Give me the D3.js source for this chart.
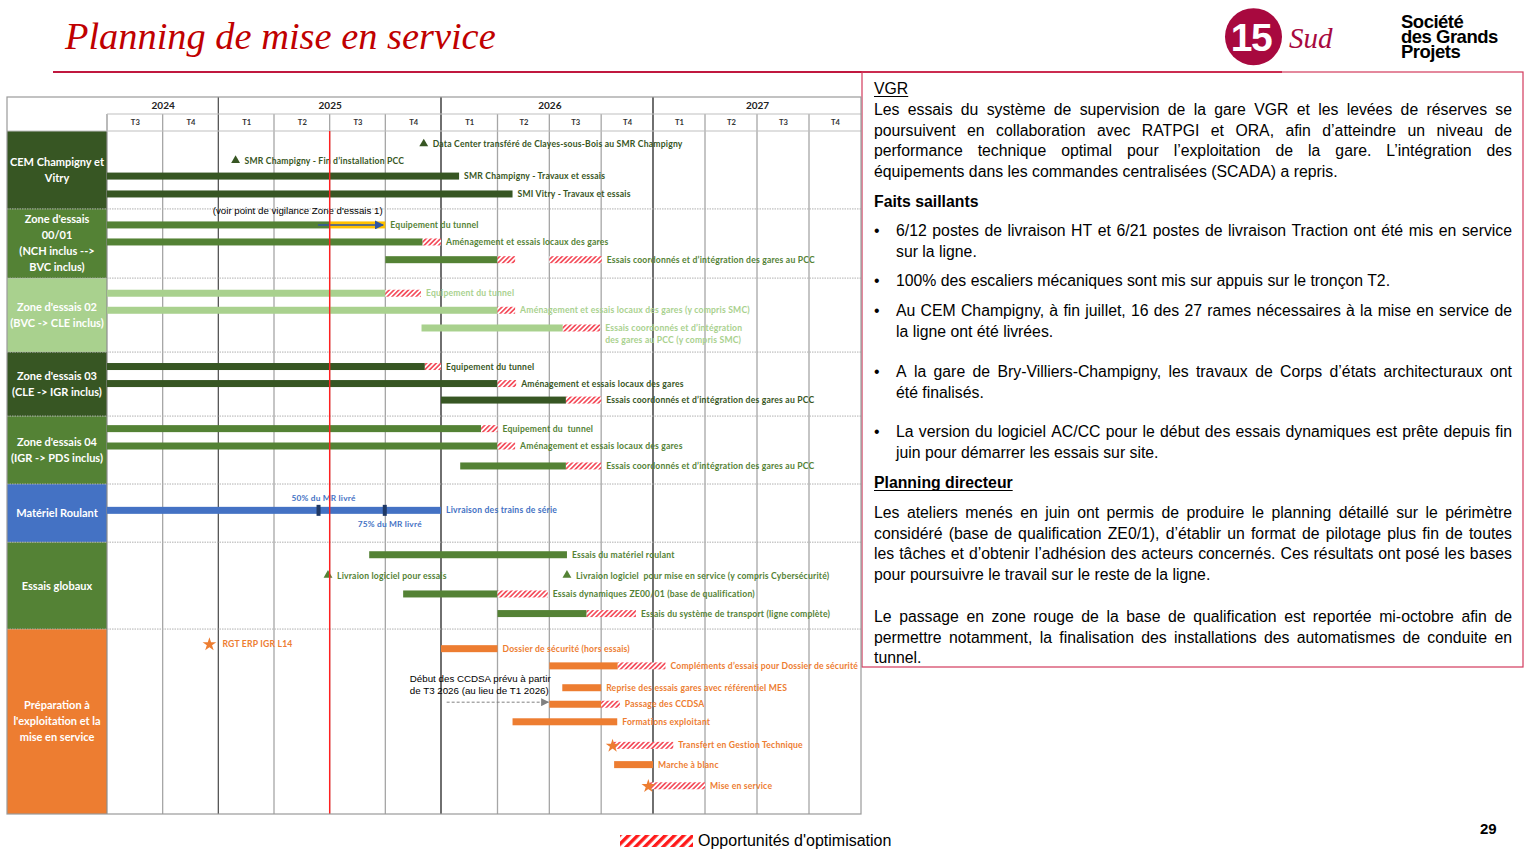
<!DOCTYPE html>
<html><head><meta charset="utf-8">
<script src="https://cdn.jsdelivr.net/npm/d3@7"></script>
<style>
html,body{margin:0;padding:0;background:#fff;}
svg{display:block;}
</style></head>
<body><svg id="c" width="1534" height="863"></svg>
<script>
// ================= DATA =================
const years = ["2024", "2025", "2026", "2027"];
const yearBounds = [0, 2, 6, 10, 14];               // quarter index from T3 2024
const quarterLabels = ["T3","T4","T1","T2","T3","T4","T1","T2","T3","T4","T1","T2","T3","T4"];
const todayQuarter = 4;                              // start of T3 2025

const categories = [
  "CEM Champigny et|Vitry",
  "Zone d'essais|00/01|(NCH inclus -->|BVC inclus)",
  "Zone d'essais 02|(BVC -> CLE inclus)",
  "Zone d'essais 03|(CLE -> IGR inclus)",
  "Zone d'essais 04|(IGR -> PDS inclus)",
  "Matériel Roulant",
  "Essais globaux",
  "Préparation à|l'exploitation et la|mise en service"
];
const categoryLaneBounds = [0, 4.53, 8.55, 12.85, 16.57, 20.52, 23.9, 28.95, 39.7];

// bars: start / end in quarters, opt = "opportunités d'optimisation" (hatched) intervals
const tasks = [
  {cat:0, lane:2.62, label:"SMR Champigny - Travaux et essais", start:0, end:6.32, opt:[]},
  {cat:0, lane:3.66, label:"SMI Vitry - Travaux et essais", start:0, end:7.29, opt:[]},
  {cat:1, lane:5.46, label:"Equipement du tunnel", start:0, end:4.0, opt:[], ext:[4.0, 5.0]},
  {cat:1, lane:6.45, label:"Aménagement et essais locaux des gares", start:0, end:5.67, opt:[[5.67, 6.0]]},
  {cat:1, lane:7.48, label:"Essais coordonnés et d’intégration des gares au PCC", start:5.0, end:7.0, opt:[[7.0, 7.34], [8.0, 9.01]]},
  {cat:2, lane:9.43, label:"Equipement du tunnel", start:0, end:5.0, opt:[[5.0, 5.64]]},
  {cat:2, lane:10.42, label:"Aménagement et essais locaux des gares (y compris SMC)", start:0, end:7.0, opt:[[7.0, 7.34]]},
  {cat:2, lane:11.45, label:"Essais coordonnés et d’intégration|des gares au PCC (y compris SMC)", start:5.65, end:8.26, opt:[[8.26, 8.98]]},
  {cat:3, lane:13.69, label:"Equipement du tunnel", start:0, end:5.71, opt:[[5.71, 6.0]]},
  {cat:3, lane:14.68, label:"Aménagement et essais locaux des gares", start:0, end:7.0, opt:[[7.0, 7.36]]},
  {cat:3, lane:15.64, label:"Essais coordonnés et d’intégration des gares au PCC", start:6.0, end:8.32, opt:[[8.32, 9.0]]},
  {cat:4, lane:17.30, label:"Equipement du  tunnel", start:0, end:6.71, opt:[[6.71, 7.0]]},
  {cat:4, lane:18.31, label:"Aménagement et essais locaux des gares", start:0, end:7.0, opt:[[7.0, 7.34]]},
  {cat:4, lane:19.47, label:"Essais coordonnés et d’intégration des gares au PCC", start:6.34, end:8.32, opt:[[8.32, 9.0]]},
  {cat:5, lane:22.05, label:"Livraison des trains de série", start:0, end:6.0, opt:[]},
  {cat:6, lane:24.63, label:"Essais du matériel roulant", start:4.71, end:8.34, opt:[]},
  {cat:6, lane:26.91, label:"Essais dynamiques ZE00/01 (base de qualification)", start:5.32, end:7.0, opt:[[7.0, 7.97]]},
  {cat:6, lane:28.05, label:"Essais du système de transport (ligne complète)", start:7.0, end:8.72, opt:[[8.72, 9.67]]},
  {cat:7, lane:30.09, label:"Dossier de sécurité (hors essais)", start:6.0, end:7.0, opt:[]},
  {cat:7, lane:31.09, label:"Compléments d’essais pour Dossier de sécurité", start:8.0, end:9.32, opt:[[9.32, 10.24]]},
  {cat:7, lane:32.36, label:"Reprise des essais gares avec référentiel MES", start:8.25, end:9.0, opt:[]},
  {cat:7, lane:33.32, label:"Passage des CCDSA", start:8.0, end:9.0, opt:[[9.0, 9.36]]},
  {cat:7, lane:34.34, label:"Formations exploitant", start:7.29, end:9.31, opt:[]},
  {cat:7, lane:36.83, label:"Marche à blanc", start:9.25, end:10.0, opt:[]}
];

const milestones = [
  {cat:0, lane:0.77, label:"Data Center transféré de Clayes-sous-Bois au SMR Champigny", at:5.69, shape:"triangle", opt:[]},
  {cat:0, lane:1.74, label:"SMR Champigny - Fin d’installation PCC", at:2.31, shape:"triangle", opt:[]},
  {cat:6, lane:25.85, label:"Livraion logiciel pour essais", at:3.97, shape:"triangle", opt:[]},
  {cat:6, lane:25.85, label:"Livraion logiciel  pour mise en service (y compris Cybersécurité)", at:8.34, shape:"triangle", opt:[]},
  {cat:7, lane:29.82, label:"RGT ERP IGR L14", at:1.84, shape:"star", opt:[]},
  {cat:7, lane:35.71, label:"Transfert en Gestion Technique", at:9.22, shape:"star", opt:[[9.22, 10.39]]},
  {cat:7, lane:38.06, label:"Mise en service", at:9.91, shape:"star", opt:[[9.91, 11.0]]}
];

const mrMarkers = [
  {at:3.80, label:"50% du MR livré", labelLane:21.35},
  {at:4.99, label:"75% du MR livré", labelLane:22.84}
];

const vigilanceNote = {text:"(voir point de vigilance Zone d'essais 1)", at:1.90, lane:4.62, arrowFrom:3.79, arrowTo:4.96, arrowLane:5.46};
const ccdsaNote = {lines:["Début des CCDSA prévu à partir", "de T3 2026 (au lieu de T1 2026)"], at:5.44, lanes:[31.85, 32.5], arrowFrom:6.1, arrowTo:8.0, arrowLane:33.2};

const vgrLines = [
  "Les essais du système de supervision de la gare VGR et les levées de réserves se",
  "poursuivent en collaboration avec RATPGI et ORA, afin d’atteindre un niveau de",
  "performance technique optimal pour l’exploitation de la gare. L’intégration des",
  "équipements dans les commandes centralisées (SCADA) a repris."
];
const faitsBullets = [
  ["6/12 postes de livraison HT et 6/21 postes de livraison Traction ont été mis en service", "sur la ligne."],
  ["100% des escaliers mécaniques sont mis sur appuis sur le tronçon T2."],
  ["Au CEM Champigny, à fin juillet, 16 des 27 rames nécessaires à la mise en service de", "la ligne ont été livrées."],
  ["A la gare de Bry-Villiers-Champigny, les travaux de Corps d’états architecturaux ont", "été finalisés."],
  ["La version du logiciel AC/CC pour le début des essais dynamiques est prête depuis fin", "juin pour démarrer les essais sur site."]
];
const planningLines1 = [
  "Les ateliers menés en juin ont permis de produire le planning détaillé sur le périmètre",
  "considéré (base de qualification ZE0/1), d’établir un format de pilotage plus fin de toutes",
  "les tâches et d’obtenir l’adhésion des acteurs concernés. Ces résultats ont posé les bases",
  "pour poursuivre le travail sur le reste de la ligne."
];
const planningLines2 = [
  "Le passage en zone rouge de la base de qualification est reportée mi-octobre afin de",
  "permettre notamment, la finalisation des installations des automatismes de conduite en",
  "tunnel."
];

// ================= STYLES =================
const catColors = ["#375623", "#548235", "#a9d18e", "#375623", "#548235", "#4472c4", "#548235", "#ed7d31"];
const GANTT_FONT = "Lato, 'Open Sans', sans-serif";
const TEXT_FONT = "'Liberation Sans', Arial, sans-serif";

// ================= DRAW =================
const svg = d3.select("#c");
const defs = svg.append("defs");

const hatch = defs.append("pattern").attr("id", "hatch").attr("patternUnits", "userSpaceOnUse")
  .attr("width", 3.4).attr("height", 3.4).attr("patternTransform", "rotate(45)");
hatch.append("rect").attr("width", 3.4).attr("height", 3.4).attr("fill", "#fff");
hatch.append("rect").attr("width", 1.7).attr("height", 3.4).attr("fill", "#f4505e");

const hatchBig = defs.append("pattern").attr("id", "hatchBig").attr("patternUnits", "userSpaceOnUse")
  .attr("width", 6.5).attr("height", 6.5).attr("patternTransform", "rotate(45)");
hatchBig.append("rect").attr("width", 6.5).attr("height", 6.5).attr("fill", "#fff");
hatchBig.append("rect").attr("width", 3.4).attr("height", 6.5).attr("fill", "#ff1a1a");

defs.append("marker").attr("id", "arrBlue").attr("viewBox", "0 0 10 10").attr("refX", 9).attr("refY", 5)
  .attr("markerWidth", 6).attr("markerHeight", 6).attr("orient", "auto")
  .append("path").attr("d", "M0,0L10,5L0,10z").attr("fill", "#2f55a4");
defs.append("marker").attr("id", "arrGray").attr("viewBox", "0 0 10 10").attr("refX", 9).attr("refY", 5)
  .attr("markerWidth", 8).attr("markerHeight", 8).attr("orient", "auto")
  .append("path").attr("d", "M0,0L10,5L0,10z").attr("fill", "#808080");

// Title & header
svg.append("text").attr("x", 65).attr("y", 49)
  .attr("font-family", "'Liberation Serif', 'Times New Roman', serif").attr("font-style", "italic")
  .attr("font-size", 38.4).attr("fill", "#c00000").text("Planning de mise en service");
svg.append("line").attr("x1", 53).attr("x2", 1282).attr("y1", 72).attr("y2", 72)
  .attr("stroke", "#c0183f").attr("stroke-width", 2);

// Logo 15 Sud
svg.append("circle").attr("cx", 1253.5).attr("cy", 36.7).attr("r", 28.5).attr("fill", "#a8093f");
svg.append("text").attr("x", 1251).attr("y", 50.5).attr("text-anchor", "middle")
  .attr("font-family", TEXT_FONT).attr("font-weight", "bold").attr("font-size", 39)
  .attr("letter-spacing", -1.5).attr("fill", "#fff").text("15");
svg.append("text").attr("x", 1289).attr("y", 48)
  .attr("font-family", "'Liberation Serif', 'Times New Roman', serif").attr("font-style", "italic")
  .attr("font-size", 29).attr("fill", "#a8093f").text("Sud");
// Logo SGP
["Société", "des Grands", "Projets"].forEach((s, i) => {
  svg.append("text").attr("x", 1401).attr("y", 28 + i * 15)
    .attr("font-family", TEXT_FONT).attr("font-weight", "bold")
    .attr("font-size", 18.5).attr("letter-spacing", -0.5).attr("fill", "#000").text(s);
});

// Right text panel
svg.append("rect").attr("x", 862).attr("y", 72).attr("width", 661).attr("height", 595)
  .attr("fill", "none").attr("stroke", "#d23a5c").attr("stroke-width", 1.2);

const panel = svg.append("g").attr("font-family", TEXT_FONT).attr("font-size", 15.8).attr("fill", "#000");
function measure(str, weight) {
  const t = panel.append("text").attr("font-weight", weight || "normal").text(str);
  const w = t.node().getComputedTextLength();
  t.remove();
  return w;
}
function textLine(str, x0, x1, yy, justify) {
  const t = panel.append("text").attr("y", yy);
  if (!justify) { t.attr("x", x0).text(str); return; }
  const words = str.split(" ");
  const widths = words.map(w => measure(w));
  const gap = (x1 - x0 - d3.sum(widths)) / (words.length - 1);
  let cx = x0;
  words.forEach((w, i) => { t.append("tspan").attr("x", cx).text(w); cx += widths[i] + gap; });
}
function paragraph(lines, x0, x1, y0, lh) {
  lines.forEach((l, i) => textLine(l, x0, x1, y0 + i * lh, i < lines.length - 1));
}
function heading(str, xx, yy, bold, underline) {
  panel.append("text").attr("x", xx).attr("y", yy).attr("font-weight", bold ? "bold" : "normal").text(str);
  if (underline) {
    const w = measure(str, bold ? "bold" : "normal");
    panel.append("line").attr("x1", xx).attr("x2", xx + w).attr("y1", yy + 2.5).attr("y2", yy + 2.5)
      .attr("stroke", "#000").attr("stroke-width", 1.2);
  }
}
const LH = 20.6;
heading("VGR", 874, 94, false, true);
paragraph(vgrLines, 874, 1512, 115, LH);
heading("Faits saillants", 874, 207, true, false);
const bulletY = [236, 286, 316, 377, 437];
faitsBullets.forEach((b, i) => {
  panel.append("text").attr("x", 874).attr("y", bulletY[i]).text("•");
  paragraph(b, 896, 1512, bulletY[i], LH);
});
heading("Planning directeur", 874, 488, true, true);
paragraph(planningLines1, 874, 1512, 518, LH);
paragraph(planningLines2, 874, 1512, 622, LH);

// Footer
svg.append("rect").attr("x", 620).attr("y", 835).attr("width", 73).attr("height", 12).attr("fill", "url(#hatchBig)");
svg.append("text").attr("x", 698).attr("y", 846).attr("font-family", TEXT_FONT).attr("font-size", 16)
  .attr("fill", "#000").text("Opportunités d'optimisation");
svg.append("text").attr("x", 1480).attr("y", 834).attr("font-family", TEXT_FONT).attr("font-weight", "bold")
  .attr("font-size", 15).attr("fill", "#000").text("29");

// ---------- Gantt ----------
const LEFT = 7, CATW = 107, RIGHT = 861, TOP = 97, YEAR_H = 114, HEAD_B = 131, BOTTOM = 814;
const x = d3.scaleLinear().domain([0, 6, 7, 10, 14]).range([CATW, 441, 497.5, 653, RIGHT]);
const y = d3.scaleLinear().domain([0, 39.7]).range([HEAD_B, BOTTOM]);
const BAR_H = 7;

const g = svg.append("g");
g.append("rect").attr("x", LEFT).attr("y", TOP).attr("width", RIGHT - LEFT).attr("height", BOTTOM - TOP)
  .attr("fill", "#fff");

// category cells
const catG = g.append("g");
categories.forEach((c, i) => {
  const y0 = y(categoryLaneBounds[i]), y1 = y(categoryLaneBounds[i + 1]);
  catG.append("rect").attr("x", LEFT).attr("y", y0).attr("width", CATW - LEFT).attr("height", y1 - y0)
    .attr("fill", catColors[i]);
  const lines = c.split("|");
  const mid = (y0 + y1) / 2;
  const t = catG.append("text").attr("font-family", GANTT_FONT).attr("font-weight", 700).attr("font-size", 11)
    .attr("fill", "#fff").attr("text-anchor", "middle");
  lines.forEach((l, k) => {
    t.append("tspan").attr("x", (LEFT + CATW) / 2)
      .attr("y", mid + (k - (lines.length - 1) / 2) * 16 + 3.9).text(l);
  });
});

// grid: quarter lines
const quarterEdges = d3.range(1, 14).filter(q => !yearBounds.includes(q));
g.append("g").selectAll("line").data(quarterEdges).join("line")
  .attr("x1", d => x(d)).attr("x2", d => x(d)).attr("y1", YEAR_H).attr("y2", BOTTOM)
  .attr("stroke", "#a6a6a6").attr("stroke-width", 1.3);
g.append("line").attr("x1", x(0)).attr("x2", x(0)).attr("y1", YEAR_H).attr("y2", BOTTOM)
  .attr("stroke", "#8c8c8c").attr("stroke-width", 1.2);
g.append("g").selectAll("line").data(yearBounds.slice(1, -1)).join("line")
  .attr("x1", d => x(d)).attr("x2", d => x(d)).attr("y1", TOP).attr("y2", BOTTOM)
  .attr("stroke", (d, i) => i === 0 ? "#555" : "#222").attr("stroke-width", 1.3);

// horizontal header lines
g.append("line").attr("x1", x(0)).attr("x2", RIGHT).attr("y1", YEAR_H).attr("y2", YEAR_H)
  .attr("stroke", "#bfbfbf").attr("stroke-width", 1);
g.append("line").attr("x1", LEFT).attr("x2", RIGHT).attr("y1", HEAD_B).attr("y2", HEAD_B)
  .attr("stroke", "#bfbfbf").attr("stroke-width", 1);

// row separators (dotted)
g.append("g").selectAll("line").data(categoryLaneBounds.slice(1, -1)).join("line")
  .attr("x1", LEFT).attr("x2", RIGHT).attr("y1", d => y(d)).attr("y2", d => y(d))
  .attr("stroke", "#b0b0b0").attr("stroke-width", 1).attr("stroke-dasharray", "1.5,1");

// header axes
const yearAxis = d3.axisTop(x)
  .tickValues(years.map((d, i) => (yearBounds[i] + yearBounds[i + 1]) / 2))
  .tickFormat((d, i) => years[i]).tickSize(0).tickPadding(0);
const ya = g.append("g").attr("transform", `translate(0,${YEAR_H - 5})`).call(yearAxis);
ya.select(".domain").remove();
ya.selectAll("text").attr("font-family", GANTT_FONT).attr("font-weight", 700).attr("font-size", 10).attr("fill", "#222");

const qAxis = d3.axisTop(x)
  .tickValues(quarterLabels.map((d, i) => i + 0.5))
  .tickFormat((d, i) => quarterLabels[i]).tickSize(0).tickPadding(0);
const qa = g.append("g").attr("transform", `translate(0,${HEAD_B - 6})`).call(qAxis);
qa.select(".domain").remove();
qa.selectAll("text").attr("font-family", GANTT_FONT).attr("font-weight", 700).attr("font-size", 7.6).attr("fill", "#333");

// bars
const barsG = g.append("g");
const labelsG = g.append("g").attr("font-family", GANTT_FONT).attr("font-weight", 700)
  .attr("font-size", 8.6).attr("letter-spacing", 0.2);

function drawLabel(text, lx, ly, color) {
  const parts = text.split("|");
  const t = labelsG.append("text").attr("fill", color).style("white-space", "pre");
  parts.forEach((p, k) => t.append("tspan").attr("x", lx).attr("y", ly + 3.1 + k * 12).text(p));
}

tasks.forEach(d => {
  const cy = y(d.lane);
  barsG.append("rect").attr("x", x(d.start)).attr("y", cy - BAR_H / 2)
    .attr("width", x(d.end) - x(d.start)).attr("height", BAR_H).attr("fill", catColors[d.cat]);
  if (d.ext) {
    barsG.append("rect").attr("x", x(d.ext[0])).attr("y", cy - BAR_H / 2)
      .attr("width", x(d.ext[1]) - x(d.ext[0])).attr("height", BAR_H).attr("fill", "#ffc000");
  }
  d.opt.forEach(o => {
    barsG.append("rect").attr("x", x(o[0])).attr("y", cy - BAR_H / 2)
      .attr("width", x(o[1]) - x(o[0])).attr("height", BAR_H).attr("fill", "url(#hatch)");
  });
  const endQ = d3.max([d.end, ...(d.ext || []), ...d.opt.map(o => o[1])]);
  drawLabel(d.label, x(endQ) + 5, cy, catColors[d.cat]);
});

// milestones
const triangle = d3.symbol().type(d3.symbolTriangle).size(34);
const star = d3.symbol().type(d3.symbolStar).size(58);
milestones.forEach(d => {
  const cy = y(d.lane);
  d.opt.forEach(o => {
    barsG.append("rect").attr("x", x(o[0])).attr("y", cy - BAR_H / 2)
      .attr("width", x(o[1]) - x(o[0])).attr("height", BAR_H).attr("fill", "url(#hatch)");
  });
  barsG.append("path").attr("d", d.shape === "star" ? star() : triangle())
    .attr("transform", `translate(${x(d.at)},${cy + (d.shape === "star" ? 0.5 : -0.5)})`)
    .attr("fill", catColors[d.cat]);
  let lx;
  if (d.opt.length) lx = x(d3.max(d.opt, o => o[1])) + 5;
  else lx = x(d.at) + (d.shape === "star" ? 13 : 9);
  drawLabel(d.label, lx, cy, catColors[d.cat]);
});

// Matériel roulant markers
mrMarkers.forEach(m => {
  const mrTask = tasks.find(t => t.cat === 5);
  barsG.append("rect").attr("x", x(m.at) - 2).attr("y", y(mrTask.lane) - 5.5).attr("width", 4).attr("height", 11)
    .attr("fill", "#1f3864");
  labelsG.append("text").attr("x", x(m.at) + 5).attr("y", y(m.labelLane) + 2.9).attr("text-anchor", "middle")
    .attr("font-size", 8.3).attr("fill", "#4472c4").text(m.label);
});

// vigilance note and arrow
labelsG.append("text").attr("x", x(vigilanceNote.at)).attr("y", y(vigilanceNote.lane) + 3.5)
  .attr("font-family", TEXT_FONT).attr("font-weight", "normal").attr("font-size", 9.7).attr("letter-spacing", 0)
  .attr("fill", "#000").text(vigilanceNote.text);
barsG.append("line").attr("x1", x(vigilanceNote.arrowFrom)).attr("x2", x(vigilanceNote.arrowTo))
  .attr("y1", y(vigilanceNote.arrowLane)).attr("y2", y(vigilanceNote.arrowLane))
  .attr("stroke", "#2f55a4").attr("stroke-width", 1.5).attr("marker-end", "url(#arrBlue)");

// CCDSA note
ccdsaNote.lines.forEach((l, i) => {
  labelsG.append("text").attr("x", x(ccdsaNote.at)).attr("y", y(ccdsaNote.lanes[i]) + 3.5)
    .attr("font-family", TEXT_FONT).attr("font-weight", "normal").attr("font-size", 9.75).attr("letter-spacing", 0)
    .attr("fill", "#000").text(l);
});
barsG.append("line").attr("x1", x(ccdsaNote.arrowFrom)).attr("x2", x(ccdsaNote.arrowTo) - 1)
  .attr("y1", y(ccdsaNote.arrowLane)).attr("y2", y(ccdsaNote.arrowLane))
  .attr("stroke", "#808080").attr("stroke-width", 1).attr("stroke-dasharray", "3,2")
  .attr("marker-end", "url(#arrGray)");

// today line
g.append("line").attr("x1", x(todayQuarter)).attr("x2", x(todayQuarter)).attr("y1", HEAD_B).attr("y2", BOTTOM)
  .attr("stroke", "#ff2020").attr("stroke-width", 1.4);

// outer frame
g.append("rect").attr("x", LEFT).attr("y", TOP).attr("width", RIGHT - LEFT).attr("height", BOTTOM - TOP)
  .attr("fill", "none").attr("stroke", "#9a9a9a").attr("stroke-width", 1.2);
</script>
</body></html>
